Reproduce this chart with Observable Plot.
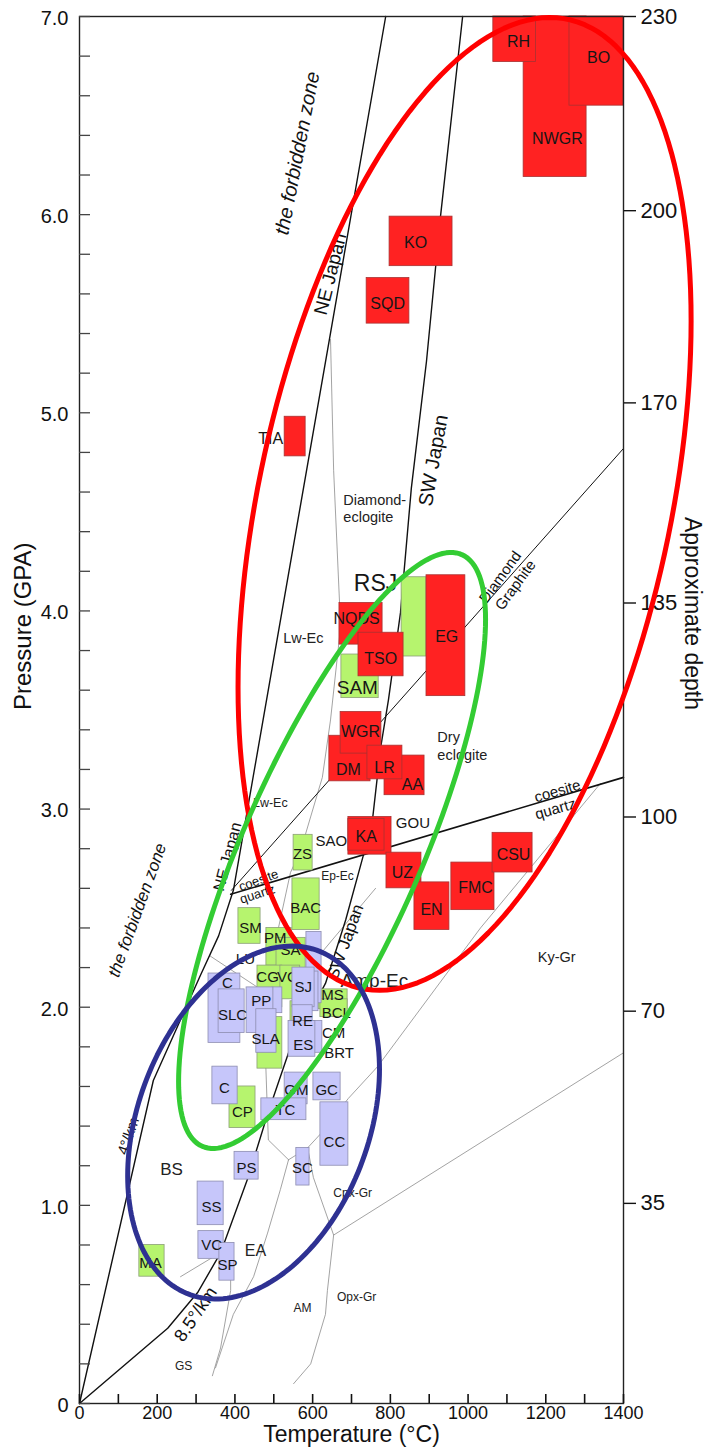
<!DOCTYPE html>
<html>
<head>
<meta charset="utf-8">
<script src="https://cdn.jsdelivr.net/npm/d3@7"></script>
<script src="https://cdn.jsdelivr.net/npm/@observablehq/plot@0.6"></script>
<style>
  html, body { margin: 0; padding: 0; background: #fff; }
  #chart svg { display: block; }
</style>
</head>
<body>
<div id="chart"></div>
<script>
// ---- Axis ticks ----
const pressureTicks = [0, 1, 2, 3, 4, 5, 6, 7];
const pressureTickLabels = ["0", "1.0", "2.0", "3.0", "4.0", "5.0", "6.0", "7.0"];
const temperatureTicks = [0, 200, 400, 600, 800, 1000, 1200, 1400];
const depthLabels = [35, 70, 100, 135, 170, 200, 230];          // km
const depthAtPressure = [1.01, 1.98, 2.96, 4.04, 5.05, 6.02, 7.0]; // GPa

// ---- Geotherms and reaction curves: [T °C, P GPa] ----
const neJapanGeotherm = [[0, 0], [190, 1.63], [247, 1.88], [311, 2.16], [358, 2.36], [396, 2.59], [788, 7.0]];
const swJapanGeotherm = [[0, 0], [227, 0.38], [304, 0.56], [363, 0.76], [432, 1.13], [484, 1.46], [538, 1.77],
  [595, 1.98], [633, 2.12], [685, 2.44], [731, 2.77], [749, 2.86], [775, 3.31], [795, 3.55], [826, 3.99],
  [854, 4.62], [893, 5.26], [929, 5.99], [986, 7.0]];
const coesiteQuartz = [[389, 2.57], [1400, 3.16]];
const diamondGraphite = [[391, 2.59], [1400, 4.82]];

// thin facies boundaries
const faciesBoundaries = [
  [[646, 5.37], [654, 4.71], [672, 3.92], [646, 3.45], [625, 3.16], [569, 2.79], [543, 2.68], [512, 2.40],
   [479, 2.08], [479, 1.73], [486, 1.33], [538, 1.23]],
  [[538, 1.23], [587, 1.29], [620, 1.36], [692, 1.54], [767, 1.70], [1032, 2.40], [1341, 3.13]],
  [[762, 2.60], [625, 2.28]],
  [[335, 2.26], [474, 2.08]],
  [[260, 0.64], [353, 0.75]],
  [[389, 0.75], [389, 0.57], [363, 0.28], [342, 0.14]],
  [[350, 0.18], [396, 0.45], [448, 0.64], [484, 0.86], [517, 1.08], [538, 1.23]],
  [[587, 1.29], [602, 1.14], [654, 0.85], [638, 0.57], [633, 0.45], [595, 0.20], [551, 0.10]],
  [[654, 0.85], [1400, 1.77]]
];

// ---- P–T boxes: [name, Tmin, Tmax, Pmin, Pmax] ----
const greenBoxes = [
  ["ZS", 551, 600, 2.69, 2.87], ["BAC", 548, 618, 2.39, 2.65], ["SM", 409, 466, 2.32, 2.50],
  ["PM", 481, 546, 2.21, 2.40], ["SA", 507, 582, 2.08, 2.35], ["CG", 458, 522, 2.00, 2.21],
  ["VC", 517, 568, 2.04, 2.21], ["", 458, 522, 1.69, 1.95], ["", 543, 575, 1.83, 2.03],
  ["MS", 615, 690, 1.99, 2.09], ["BCL", 620, 690, 1.95, 2.04], ["CP", 386, 453, 1.39, 1.60],
  ["MA", 154, 219, 0.64, 0.80], ["RSJ", 829, 893, 3.77, 4.17], ["SAM", 674, 770, 3.56, 3.78]
];
const blueBoxes = [
  ["", 584, 623, 2.02, 2.38], ["C", 332, 414, 1.82, 2.17], ["SLC", 358, 425, 1.87, 2.09],
  ["", 497, 522, 1.97, 2.10], ["PP", 430, 499, 1.87, 2.10], ["SLA", 455, 507, 1.77, 1.99],
  ["", 569, 615, 1.98, 2.18], ["SJ", 548, 605, 2.00, 2.20], ["RE", 548, 600, 1.88, 2.01],
  ["", 569, 625, 1.77, 1.93], ["ES", 538, 607, 1.75, 1.93], ["C", 342, 407, 1.51, 1.70],
  ["GM", 528, 587, 1.51, 1.67], ["TC", 468, 584, 1.43, 1.54], ["GC", 602, 672, 1.53, 1.67],
  ["CC", 620, 692, 1.20, 1.52], ["PS", 399, 461, 1.13, 1.27], ["SC", 558, 592, 1.10, 1.29],
  ["SS", 304, 371, 0.90, 1.12], ["VC", 306, 371, 0.73, 0.87], ["SP", 360, 399, 0.62, 0.81]
];
const redBoxes = [
  ["NWGR", 1143, 1305, 6.19, 7.0], ["RH", 1065, 1175, 6.77, 7.0], ["BO", 1261, 1400, 6.55, 7.0],
  ["KO", 798, 960, 5.74, 5.99], ["SQD", 739, 849, 5.45, 5.68], ["TIA", 528, 582, 4.78, 4.98],
  ["NQDS", 669, 780, 3.83, 4.04], ["TSO", 718, 834, 3.67, 3.89], ["EG", 893, 993, 3.57, 4.18],
  ["DM", 643, 749, 3.14, 3.37], ["WGR", 672, 777, 3.28, 3.49], ["AA", 785, 888, 3.07, 3.27],
  ["LR", 741, 831, 3.15, 3.32], ["KA", 692, 803, 2.77, 2.96], ["", 692, 785, 2.79, 2.95],
  ["UZ", 790, 880, 2.60, 2.78], ["EN", 862, 952, 2.39, 2.63], ["FMC", 957, 1068, 2.49, 2.73],
  ["CSU", 1063, 1166, 2.68, 2.88]
];

// ---- Box labels: [name, T, P] ----
const greenLabels = [
  ["ZS", 574, 2.77], ["BAC", 582, 2.50], ["SM", 440, 2.40], ["PM", 504, 2.35], ["SA", 543, 2.29],
  ["CG", 484, 2.15], ["VC", 535, 2.15], ["MS", 651, 2.06], ["BCL", 661, 1.97], ["CP", 419, 1.47],
  ["MA", 183, 0.71], ["RSJ", 762, 4.14], ["SAM", 715, 3.61]
];
const blueLabels = [
  ["C", 381, 2.12], ["SLC", 394, 1.96], ["PP", 468, 2.03], ["SLA", 479, 1.84], ["SJ", 576, 2.10],
  ["RE", 574, 1.93], ["ES", 576, 1.81], ["C", 373, 1.59], ["GM", 558, 1.58], ["TC", 530, 1.48],
  ["GC", 636, 1.58], ["CC", 656, 1.32], ["PS", 430, 1.19], ["SC", 574, 1.19], ["SS", 340, 0.99],
  ["VC", 340, 0.80], ["SP", 381, 0.70]
];
const redLabels = [
  ["RH", 1130, 6.87], ["NWGR", 1230, 6.38], ["BO", 1336, 6.79], ["KO", 865, 5.86], ["SQD", 793, 5.55],
  ["TIA", 492, 4.87], ["NQDS", 713, 3.96], ["TSO", 775, 3.76], ["EG", 945, 3.87], ["WGR", 723, 3.39],
  ["DM", 692, 3.20], ["LR", 785, 3.21], ["AA", 857, 3.12], ["KA", 738, 2.86], ["UZ", 831, 2.68],
  ["EN", 906, 2.49], ["FMC", 1019, 2.60], ["CSU", 1117, 2.77]
];
const siteLabels = [["SAO", 648, 2.84], ["GOU", 858, 2.93], ["LU", 427, 2.24], ["CM", 654, 1.87], ["BRT", 668, 1.77]];

// ---- Facies field names: [text, T, P] ----
const faciesNames = [
  ["Diamond-", 679, 4.56], ["eclogite", 679, 4.47], ["Dry", 921, 3.36], ["eclogite", 921, 3.27],
  ["Amp-Ec", 672, 2.135],
  ["Lw-Ec", 576, 3.86], ["Ky-Gr", 1228, 2.25], ["BS", 237, 1.18], ["EA", 453, 0.77],
  ["Lw-Ec", 491, 3.03], ["Ep-Ec", 664, 2.66], ["GS", 268, 0.19], ["AM", 574, 0.48],
  ["Opx-Gr", 713, 0.535], ["Cpx-Gr", 703, 1.06]
];
const faciesSize = [14.5, 14.5, 14.5, 14.5, 19, 14.5, 14.5, 17, 16, 12.5, 12, 12, 12, 12, 12];

// ---- Labels along curves: [text, T, P] with their orientation ----
const curveNotes = [
  ["the forbidden zone", 561, 6.31], ["the forbidden zone", 149, 2.49],
  ["NE Japan", 646, 5.70], ["NE Japan", 381, 2.76],
  ["SW Japan", 911, 4.76], ["SW Japan", 684, 2.33],
  ["4°/km", 126, 1.35], ["8.5°/km", 299, 0.45],
  ["coesite", 1230, 3.09], ["quartz", 1225, 3.00],
  ["coesite", 461, 2.64], ["quartz", 458, 2.57],
  ["Diamond", 1083, 4.17], ["Graphite", 1122, 4.13]
];
const curveNoteStyle = [
  {size: 20, angle: -79, italic: true}, {size: 17, angle: -70, italic: true},
  {size: 19, angle: -76}, {size: 16, angle: -75},
  {size: 20, angle: -80}, {size: 17, angle: -70},
  {size: 15, angle: -71}, {size: 18, angle: -56},
  {size: 15, angle: -16}, {size: 15, angle: -16},
  {size: 13, angle: -20}, {size: 13, angle: -18},
  {size: 15, angle: -54}, {size: 15, angle: -54}
];

// ---- Grouping ellipses: centre (T, P), T half-extent, P terms along cos/sin ----
const groupEllipses = [
  {id: "uhp", tc: 991, pc: 4.54, at: 583, pcos: 0.925, psin: 2.274, color: "#ff0000"},
  {id: "hp", tc: 650, pc: 2.791, at: 395, pcos: 1.166, psin: 0.950, color: "#33cc33"},
  {id: "lt", tc: 448, pc: 1.418, at: 324, pcos: 0.269, psin: 0.849, color: "#2e3192"}
];

// ---- Build tables ----
const toRows = (id, pts) => pts.map(([T, P]) => ({id, T, P}));
const faciesRows = faciesBoundaries.flatMap((pts, i) => toRows("f" + i, pts));
const curveRows = [...toRows("ne", neJapanGeotherm), ...toRows("sw", swJapanGeotherm)];
const phaseRows = toRows("cq", coesiteQuartz);
const dgRows = toRows("dg", diamondGraphite);
const ellipseRows = groupEllipses.flatMap(e => d3.range(0, 362, 2).map(deg => {
  const t = deg * Math.PI / 180;
  return {id: e.id, color: e.color,
    T: e.tc + e.at * Math.cos(t),
    P: e.pc + e.pcos * Math.cos(t) + e.psin * Math.sin(t)};
}));

const minorP = d3.range(0, 36).map(i => +(i * 0.2).toFixed(1));
const minorT = d3.range(0, 15).map(i => i * 100);
const depthByP = new Map(depthAtPressure.map((p, i) => [p, String(depthLabels[i])]));
const pLabelByP = new Map(pressureTicks.map((p, i) => [p, pressureTickLabels[i]]));

const boxRect = (data, fill, stroke) => Plot.rect(data, {
  x1: d => d[1], x2: d => d[2], y1: d => d[3], y2: d => d[4],
  fill, stroke, strokeWidth: 0.8
});
const boxText = (data, size) => Plot.text(data, {
  x: d => d[1], y: d => d[2], text: d => d[0],
  fontSize: typeof size === "function" ? size : () => size, fill: "#161616"
});
const bigLabel = new Map([["RSJ", 23], ["SAM", 19]]);

const frameH = 1403 - 16, frameW = 623 - 79;

const chart = Plot.plot({
  width: 709,
  height: 1453,
  marginLeft: 79,
  marginRight: 86,
  marginTop: 16,
  marginBottom: 50,
  x: {domain: [0, 1400]},
  y: {domain: [0, 7]},
  style: {fontFamily: "'Liberation Sans', Arial, Helvetica, sans-serif", background: "#fff", color: "#111"},
  marks: [
    // facies boundaries and curves
    Plot.line(faciesRows, {x: "T", y: "P", z: "id", stroke: "#8c8c8c", strokeWidth: 0.8}),
    Plot.line(dgRows, {x: "T", y: "P", z: "id", stroke: "#111", strokeWidth: 1.0}),
    Plot.line(curveRows, {x: "T", y: "P", z: "id", stroke: "#111", strokeWidth: 1.4}),
    Plot.line(phaseRows, {x: "T", y: "P", z: "id", stroke: "#111", strokeWidth: 1.6}),

    // field names
    ...faciesNames.map((d, i) => Plot.text([d], {
      x: d => d[1], y: d => d[2], text: d => d[0],
      fontSize: faciesSize[i], fill: "#222",
      textAnchor: i < 5 ? "start" : "middle"
    })),
    // labels along curves
    ...curveNotes.map((d, i) => Plot.text([d], {
      x: d => d[1], y: d => d[2], text: d => d[0],
      fontSize: curveNoteStyle[i].size, rotate: curveNoteStyle[i].angle,
      fontStyle: curveNoteStyle[i].italic ? "italic" : "normal", fill: "#111"
    })),
    Plot.text(siteLabels, {x: d => d[1], y: d => d[2], text: d => d[0], fontSize: 15, fill: "#161616"}),

    // P–T estimates
    boxRect(greenBoxes, "#b6f46e", "#8c9f78"),
    boxText(greenLabels, d => bigLabel.get(d[0]) ?? 15),
    boxRect(blueBoxes, "#c6c6fa", "#8d8db0"),
    boxText(blueLabels, 15),
    boxRect(redBoxes, "#ff2222", "#a83232"),
    boxText(redLabels, 16),

    // frame and ticks
    Plot.frame({stroke: "#222", strokeWidth: 1.4}),
    Plot.tickY(minorP, {y: d => d, insetRight: frameW - 11, stroke: "#444", strokeWidth: 1.3}),
    Plot.tickX(minorT, {x: d => d, insetTop: frameH - 9, stroke: "#111", strokeWidth: 1.6}),
    Plot.axisY({anchor: "left", ticks: pressureTicks, tickSize: 0, tickPadding: 11, dy: 2,
      tickFormat: d => pLabelByP.get(d), fontSize: 20, label: null}),
    Plot.axisX({anchor: "bottom", ticks: temperatureTicks, tickSize: 0, tickPadding: 3,
      tickFormat: d => String(d), fontSize: 18, label: null}),
    Plot.axisY({anchor: "right", ticks: depthAtPressure, tickSize: 12, tickPadding: 5,
      tickFormat: d => depthByP.get(d), fontSize: 22, label: null, stroke: "#111", strokeWidth: 1.4}),

    // grouping ellipses
    Plot.line(ellipseRows, {x: "T", y: "P", z: "id", stroke: "color", strokeWidth: 5, curve: "linear"}),

    // axis titles
    Plot.text(["Pressure (GPA)"], {frameAnchor: "left", dx: -56, rotate: -90, fontSize: 24, fill: "#111"}),
    Plot.text(["Approximate depth"], {frameAnchor: "right", dx: 69, rotate: 90, fontSize: 23, fill: "#111"}),
    Plot.text(["Temperature (°C)"], {frameAnchor: "bottom", dy: 38, fontSize: 23, fill: "#111"})
  ]
});

document.getElementById("chart").appendChild(chart);
</script>
</body>
</html>
